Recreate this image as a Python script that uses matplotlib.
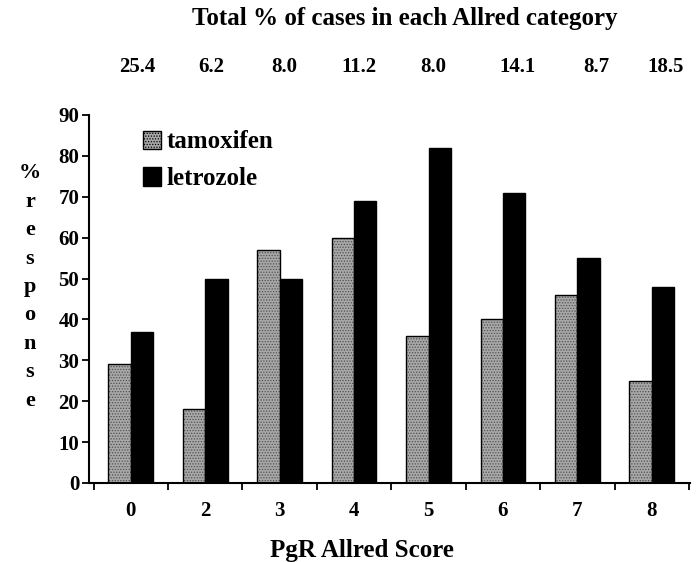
import matplotlib
matplotlib.use("Agg")
import matplotlib.pyplot as plt
from matplotlib.patches import Patch
import numpy as np

# Daten
scores = ["0", "2", "3", "4", "5", "6", "7", "8"]
tamoxifen = [29, 18, 57, 60, 36, 40, 46, 25]
letrozole = [37, 50, 50, 69, 82, 71, 55, 48]
pct_cases = ["25.4", "6.2", "8.0", "11.2", "8.0", "14.1", "8.7", "18.5"]
# leichte Verschiebung der Prozentwerte gegenueber der Kategorienmitte
pct_shift = [0.08, 0.075, 0.06, 0.07, 0.06, 0.2, 0.25, 0.19]

plt.rcParams['font.family'] = ['Liberation Serif', 'DejaVu Serif']
plt.rcParams['font.weight'] = 'bold'
plt.rcParams['hatch.linewidth'] = 0.6

W, H = 698, 562
fig = plt.figure(figsize=(W / 100, H / 100), dpi=100)
ax = fig.add_axes([89 / W, 79 / H, 601 / W, 368 / H])

x = np.arange(len(scores))
w = 0.3
gray = '#a8a8a8'
ax.bar(x - w / 2, tamoxifen, w, color=gray, edgecolor='#505050',
       hatch='......', linewidth=0)
ax.bar(x - w / 2, tamoxifen, w, fill=False, edgecolor='black', linewidth=1.0)
ax.bar(x + w / 2, letrozole, w, color='black', edgecolor='black', linewidth=1.0)

ax.set_xlim(-0.562, len(scores) - 0.487)
ax.set_ylim(0, 90)
ax.set_yticks(range(0, 91, 10))
ax.set_xticks(x)
ax.set_xticklabels(scores)
ax.set_xticks(np.arange(-0.5, len(scores)), minor=True)
ax.tick_params(axis='x', which='major', length=0, pad=13, labelsize=15)
ax.tick_params(axis='x', which='minor', length=5, width=1.3, direction='out')
ax.tick_params(axis='y', length=5, width=1.3, pad=2, labelsize=15)
for s in ['top', 'right']:
    ax.spines[s].set_visible(False)
for s in ['left', 'bottom']:
    ax.spines[s].set_linewidth(1.5)

# Legende
handles = [Patch(facecolor=gray, edgecolor='black', hatch='......', linewidth=1.0),
           Patch(facecolor='black', edgecolor='black')]
ax.legend(handles, ['tamoxifen', 'letrozole'], loc='upper left',
          bbox_to_anchor=(0.09, 0.958), frameon=False, fontsize=18,
          borderpad=0, borderaxespad=0,
          handlelength=0.7, handleheight=0.75, handletextpad=0.25,
          labelspacing=0.55)

# Texte oben
fig.text(405 / W, 1 - 18 / H, "Total % of cases in each Allred category",
         ha='center', va='center', fontsize=18, fontweight='bold')
for i, (lab, sh) in enumerate(zip(pct_cases, pct_shift)):
    xf = ax.transData.transform((i + sh, 0))[0]
    fig.text(xf / W, 1 - 67 / H, lab, ha='center', va='center',
             fontsize=15, fontweight='bold')

fig.text(362 / W, 1 - 550 / H, "PgR Allred Score", ha='center', va='center',
         fontsize=18, fontweight='bold')
fig.text(30 / W, 1 - 287 / H, "\n".join("%response"), ha='center', va='center',
         fontsize=16, fontweight='bold', linespacing=1.56)

fig.savefig("out.png", dpi=100)
